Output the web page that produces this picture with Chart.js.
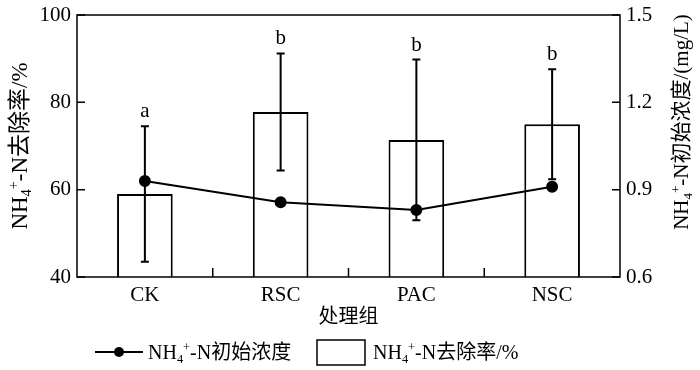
<!DOCTYPE html>
<html>
<head>
<meta charset="utf-8">
<script src="https://cdn.jsdelivr.net/npm/chart.js@4"></script>
<style>
  html, body { margin: 0; padding: 0; background: #fff; }
</style>
</head>
<body>
<canvas id="chart" width="700" height="370"></canvas>
<script>
const groups = ['CK', 'RSC', 'PAC', 'NSC'];
const removalRate = [59.0, 77.8, 71.4, 75.0];
const removalErr = [15.5, 13.4, 18.4, 12.6];
const initialConc = [0.93, 0.857, 0.83, 0.91];
const sigLetters = ['a', 'b', 'b', 'b'];
const leftTicks = [40, 60, 80, 100];
const rightTicks = [0.6, 0.9, 1.2, 1.5];

const FONT = "'Liberation Serif', 'Noto Sans CJK SC', serif";

// text with sub/superscripts: parts = [[text, ''|'sub'|'sup'], ...]
function richWidth(ctx, parts, size) {
  let w = 0;
  parts.forEach(([t, k]) => {
    ctx.font = (k ? size * 0.62 : size) + 'px ' + FONT;
    w += ctx.measureText(t).width;
  });
  return w;
}
function drawRich(ctx, parts, x, y, size, align) {
  let cx = align === 'center' ? x - richWidth(ctx, parts, size) / 2 : x;
  ctx.textBaseline = 'alphabetic';
  ctx.textAlign = 'left';
  parts.forEach(([t, k]) => {
    ctx.font = (k ? size * 0.62 : size) + 'px ' + FONT;
    let dy = 0.34 * size;
    if (k === 'sub') dy += 0.2 * size;
    if (k === 'sup') dy -= 0.4 * size;
    ctx.fillText(t, cx, y + dy);
    cx += ctx.measureText(t).width;
  });
}

const rateLabel = [['NH', ''], ['4', 'sub'], ['+', 'sup'], ['-N去除率/%', '']];
const concLabel = [['NH', ''], ['4', 'sub'], ['+', 'sup'], ['-N初始浓度', '']];
const concAxisLabel = [['NH', ''], ['4', 'sub'], ['+', 'sup'], ['-N初始浓度/(mg/L)', '']];

const decorPlugin = {
  id: 'decor',
  afterDatasetsDraw(chart) {
    const ctx = chart.ctx;
    const a = chart.chartArea;
    const x = chart.scales.x, y = chart.scales.y, y1 = chart.scales.y1;
    ctx.save();
    ctx.strokeStyle = '#000';
    ctx.fillStyle = '#000';

    // error bars of removal rate + significance letters
    ctx.lineWidth = 2;
    removalRate.forEach((v, i) => {
      const px = x.getPixelForValue(i);
      const top = y.getPixelForValue(v + removalErr[i]);
      const bot = y.getPixelForValue(v - removalErr[i]);
      ctx.beginPath();
      ctx.moveTo(px, top); ctx.lineTo(px, bot);
      ctx.moveTo(px - 4, top); ctx.lineTo(px + 4, top);
      ctx.moveTo(px - 4, bot); ctx.lineTo(px + 4, bot);
      ctx.stroke();
      ctx.font = '21px ' + FONT;
      ctx.textAlign = 'center';
      ctx.textBaseline = 'bottom';
      ctx.fillText(sigLetters[i], px, top - 4);
    });

    // frame
    ctx.lineWidth = 1.5;
    ctx.strokeRect(a.left, a.top, a.right - a.left, a.bottom - a.top);

    // inward ticks
    ctx.beginPath();
    leftTicks.forEach(v => {
      const py = y.getPixelForValue(v);
      ctx.moveTo(a.left, py); ctx.lineTo(a.left + 8, py);
    });
    rightTicks.forEach(v => {
      const py = y1.getPixelForValue(v);
      ctx.moveTo(a.right, py); ctx.lineTo(a.right - 8, py);
    });
    for (let i = 0; i < groups.length - 1; i++) {
      const px = (x.getPixelForValue(i) + x.getPixelForValue(i + 1)) / 2;
      ctx.moveTo(px, a.bottom); ctx.lineTo(px, a.bottom - 9);
    }
    ctx.stroke();

    // axis titles
    ctx.save();
    ctx.translate(19, 146);
    ctx.rotate(-Math.PI / 2);
    drawRich(ctx, rateLabel, 0, 0, 23, 'center');
    ctx.restore();
    ctx.save();
    ctx.translate(681, 122);
    ctx.rotate(-Math.PI / 2);
    drawRich(ctx, concAxisLabel, 0, 0, 21, 'center');
    ctx.restore();
    ctx.font = '20px ' + FONT;
    ctx.textAlign = 'center';
    ctx.textBaseline = 'middle';
    ctx.fillText('处理组', (a.left + a.right) / 2, 318);

    // legend
    const ly = 352;
    ctx.lineWidth = 2;
    ctx.beginPath();
    ctx.moveTo(95, ly); ctx.lineTo(143, ly);
    ctx.stroke();
    ctx.beginPath();
    ctx.arc(119, ly, 5, 0, Math.PI * 2);
    ctx.fill();
    drawRich(ctx, concLabel, 148, ly, 20, 'left');
    ctx.lineWidth = 1.5;
    ctx.strokeRect(317, 340, 48, 25);
    drawRich(ctx, rateLabel, 373, ly, 20, 'left');
    ctx.restore();
  }
};

new Chart(document.getElementById('chart'), {
  data: {
    labels: groups,
    datasets: [
      {
        type: 'line',
        label: 'NH4+-N初始浓度',
        data: initialConc,
        yAxisID: 'y1',
        borderColor: '#000',
        borderWidth: 2,
        pointRadius: 5,
        pointBackgroundColor: '#000',
        pointBorderColor: '#000',
        tension: 0,
        order: 0
      },
      {
        type: 'bar',
        label: 'NH4+-N去除率/%',
        data: removalRate,
        yAxisID: 'y',
        backgroundColor: '#fff',
        borderColor: '#000',
        borderWidth: 2,
        categoryPercentage: 1,
        barPercentage: 0.41,
        order: 1
      }
    ]
  },
  options: {
    responsive: false,
    animation: false,
    layout: { padding: { top: 15, left: 0, right: 0, bottom: 0 } },
    plugins: { legend: { display: false }, tooltip: { enabled: false } },
    scales: {
      x: {
        type: 'category',
        offset: true,
        grid: { display: false, drawTicks: false },
        border: { display: false },
        ticks: { color: '#000', font: { family: FONT, size: 21 }, padding: 6 },
        afterFit: s => { s.height = 93; s.paddingLeft = 0; s.paddingRight = 0; }
      },
      y: {
        position: 'left',
        min: 40, max: 100,
        afterBuildTicks: s => { s.ticks = leftTicks.map(v => ({ value: v })); },
        grid: { display: false, drawTicks: false },
        border: { display: false },
        ticks: { color: '#000', font: { family: FONT, size: 21 }, padding: 6 },
        afterFit: s => { s.width = 77; s.paddingTop = 0; s.paddingBottom = 0; }
      },
      y1: {
        position: 'right',
        min: 0.6, max: 1.5,
        afterBuildTicks: s => { s.ticks = rightTicks.map(v => ({ value: v })); },
        grid: { display: false, drawTicks: false },
        border: { display: false },
        ticks: { color: '#000', font: { family: FONT, size: 21 }, padding: 6,
                 callback: v => v.toFixed(1) },
        afterFit: s => { s.width = 80; s.paddingTop = 0; s.paddingBottom = 0; }
      }
    }
  },
  plugins: [decorPlugin]
});
</script>
</body>
</html>
